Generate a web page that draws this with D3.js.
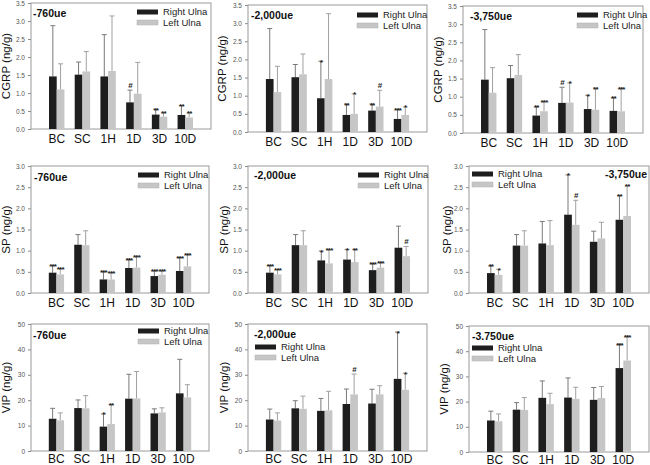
<!DOCTYPE html>
<html><head><meta charset="utf-8">
<script src="https://cdn.jsdelivr.net/npm/d3@7"></script>
<style>
body{margin:0;background:#fff;}
svg{display:block;font-family:"Liberation Sans",Arial,sans-serif;}
</style></head>
<body>
<svg id="chart" width="650" height="465"></svg>
<script>
// ---------- DATA ----------
const categories = ["BC","SC","1H","1D","3D","10D"];
const seriesNames = ["Right Ulna","Left Ulna"];

// CGRP
const cgrp760Right = [1.46,1.51,1.46,0.74,0.40,0.39];
const cgrp760RightSD = [1.41,0.35,1.16,0.34,0.15,0.26];
const cgrp760Left = [1.10,1.60,1.61,0.98,0.34,0.32];
const cgrp760LeftSD = [0.71,0.55,1.53,0.87,0.11,0.13];
const cgrp760RightSig = ["","","","#","**","**"];
const cgrp760LeftSig = ["","","","","**","**"];

const cgrp2000Right = [1.46,1.51,0.93,0.47,0.59,0.36];
const cgrp2000RightSD = [1.39,0.35,1.02,0.30,0.18,0.27];
const cgrp2000Left = [1.10,1.59,1.46,0.50,0.70,0.47];
const cgrp2000LeftSD = [0.71,0.56,1.80,0.55,0.45,0.22];
const cgrp2000RightSig = ["","","*","**","**","***"];
const cgrp2000LeftSig = ["","","","*","#","*"];

const cgrp3750Right = [1.47,1.51,0.48,0.83,0.66,0.61];
const cgrp3750RightSD = [1.38,0.35,0.24,0.43,0.38,0.36];
const cgrp3750Left = [1.11,1.60,0.60,0.84,0.64,0.60];
const cgrp3750LeftSD = [0.69,0.56,0.27,0.54,0.60,0.64];
const cgrp3750RightSig = ["","","**","#","*","**"];
const cgrp3750LeftSig = ["","","***","*","**","***"];

// SP
const sp760Right = [0.48,1.14,0.32,0.59,0.40,0.52];
const sp760RightSD = [0.17,0.24,0.18,0.21,0.12,0.32];
const sp760Left = [0.44,1.13,0.32,0.60,0.43,0.63];
const sp760LeftSD = [0.14,0.34,0.16,0.27,0.09,0.29];
const sp760RightSig = ["***","","***","***","***","***"];
const sp760LeftSig = ["***","","***","***","***","***"];

const sp2000Right = [0.48,1.13,0.77,0.79,0.54,1.07];
const sp2000RightSD = [0.17,0.25,0.22,0.24,0.15,0.51];
const sp2000Left = [0.44,1.13,0.70,0.73,0.60,0.87];
const sp2000LeftSD = [0.12,0.34,0.33,0.30,0.13,0.23];
const sp2000RightSig = ["***","","*","*","***",""];
const sp2000LeftSig = ["***","","***","**","***","#"];

const sp3750Right = [0.47,1.12,1.17,1.85,1.21,1.73];
const sp3750RightSD = [0.17,0.26,0.52,0.94,0.25,0.57];
const sp3750Left = [0.43,1.12,1.13,1.61,1.29,1.82];
const sp3750LeftSD = [0.13,0.35,0.58,0.58,0.38,0.71];
const sp3750RightSig = ["**","","","*","","**"];
const sp3750LeftSig = ["*","","","#","","**"];

// VIP
const vip760Right = [12.7,16.9,9.6,20.6,14.8,22.7];
const vip760RightSD = [4.1,3.2,5.0,9.6,1.8,13.4];
const vip760Left = [12.1,16.8,10.6,20.7,15.2,21.1];
const vip760LeftSD = [2.9,5.0,7.7,10.6,1.8,5.0];
const vip760RightSig = ["","","*","","",""];
const vip760LeftSig = ["","","**","","",""];

const vip2000Right = [12.4,16.8,15.8,18.5,18.7,28.4];
const vip2000RightSD = [4.1,3.0,4.9,5.9,5.6,18.4];
const vip2000Left = [12.0,16.6,16.0,22.3,22.3,24.1];
const vip2000LeftSD = [3.0,5.0,7.5,8.0,3.4,6.5];
const vip2000RightSig = ["","","","","","*"];
const vip2000LeftSig = ["","","","#","","*"];

const vip3750Right = [12.5,16.8,21.5,21.6,20.7,33.3];
const vip3750RightSD = [3.7,2.8,6.7,7.8,4.9,9.5];
const vip3750Left = [12.2,16.7,19.0,21.1,21.4,36.3];
const vip3750LeftSD = [2.9,4.9,4.3,4.6,4.6,9.7];
const vip3750RightSig = ["","","","","","***"];
const vip3750LeftSig = ["","","","","","***"];

const cgrpTicks = [0,0.5,1.0,1.5,2.0,2.5,3.0,3.5];
const spTicks = [0,0.5,1.0,1.5,2.0,2.5,3.0];
const vipTicks = [0,10,20,30,40,50];

const panelTitles = ["-760ue","-2,000ue","-3,750ue","-760ue","-2,000ue","-3,750ue","-760ue","-2,000ue","-3.750ue"];
const yLabels = ["CGRP (ng/g)","SP (ng/g)","VIP (ng/g)"];

// ---------- PANELS (data bindings) ----------
const panels = [
 {r:cgrp760Right, rsd:cgrp760RightSD, l:cgrp760Left, lsd:cgrp760LeftSD, rs:cgrp760RightSig, ls:cgrp760LeftSig, ticks:cgrpTicks, fmt:".1f", ylab:0},
 {r:cgrp2000Right, rsd:cgrp2000RightSD, l:cgrp2000Left, lsd:cgrp2000LeftSD, rs:cgrp2000RightSig, ls:cgrp2000LeftSig, ticks:cgrpTicks, fmt:".1f", ylab:0},
 {r:cgrp3750Right, rsd:cgrp3750RightSD, l:cgrp3750Left, lsd:cgrp3750LeftSD, rs:cgrp3750RightSig, ls:cgrp3750LeftSig, ticks:cgrpTicks, fmt:".1f", ylab:0},
 {r:sp760Right, rsd:sp760RightSD, l:sp760Left, lsd:sp760LeftSD, rs:sp760RightSig, ls:sp760LeftSig, ticks:spTicks, fmt:".1f", ylab:1},
 {r:sp2000Right, rsd:sp2000RightSD, l:sp2000Left, lsd:sp2000LeftSD, rs:sp2000RightSig, ls:sp2000LeftSig, ticks:spTicks, fmt:".1f", ylab:1},
 {r:sp3750Right, rsd:sp3750RightSD, l:sp3750Left, lsd:sp3750LeftSD, rs:sp3750RightSig, ls:sp3750LeftSig, ticks:spTicks, fmt:".1f", ylab:1},
 {r:vip760Right, rsd:vip760RightSD, l:vip760Left, lsd:vip760LeftSD, rs:vip760RightSig, ls:vip760LeftSig, ticks:vipTicks, fmt:"d", ylab:2},
 {r:vip2000Right, rsd:vip2000RightSD, l:vip2000Left, lsd:vip2000LeftSD, rs:vip2000RightSig, ls:vip2000LeftSig, ticks:vipTicks, fmt:"d", ylab:2},
 {r:vip3750Right, rsd:vip3750RightSD, l:vip3750Left, lsd:vip3750LeftSD, rs:vip3750RightSig, ls:vip3750LeftSig, ticks:vipTicks, fmt:"d", ylab:2}
];

// ---------- LAYOUT ----------
const layout = [
 {f:[31,3,211,129],   title:[33,17,"start"],   leg:[137,12],  ylx:9.5,   xo:14},
 {f:[248,5,427,132],  title:[251,19,"start"],  leg:[357,15],  ylx:225.5, xo:14},
 {f:[463,6,643,133],  title:[470,20,"start"],  leg:[577,15],  ylx:441.5, xo:14},
 {f:[31,166,209,293], title:[34,181,"start"],  leg:[138,175], ylx:9.5,   xo:13.5},
 {f:[248,166,428,293],title:[254,179,"start"], leg:[358,175], ylx:228,   xo:13.5},
 {f:[469,166,649,293],title:[647,177.5,"end"], leg:[472,174], ylx:451,   xo:13.5},
 {f:[31,324,209,451], title:[33,338.5,"start"],leg:[138,331], ylx:9.5,   xo:12},
 {f:[248,324,427,451],title:[254,337.5,"start"],leg:[255,347], ylx:228,   xo:12},
 {f:[469,326,649,452],title:[472,340,"start"], leg:[472,348], ylx:448,   xo:11.5}
];

const darkFill = "#1e1e1e", lightFill = "#c6c6c6";
const svg = d3.select("#chart");

panels.forEach((p, k) => {
  const L = layout[k];
  const [x0, y0, x1, y1] = L.f;
  const g = svg.append("g");
  const x = d3.scaleLinear().domain([0, 7]).range([x0, x1]);
  const yMax = p.ticks[p.ticks.length - 1];
  const y = d3.scaleLinear().domain([0, yMax]).range([y1, y0]);
  const bw = 0.3;

  // y axis
  const ax = g.append("g").attr("transform", `translate(${x0},0)`)
    .call(d3.axisLeft(y).tickValues(p.ticks).tickFormat(d3.format(p.fmt)).tickSize(3).tickPadding(3));
  ax.select(".domain").remove();
  ax.selectAll(".tick line").attr("stroke", "#8a8a8a");
  ax.selectAll(".tick text").attr("fill", "#555").style("font-size", "6.5px").style("font-family", "Liberation Sans, Arial, sans-serif");

  // frame
  g.append("rect").attr("x", x0).attr("y", y0).attr("width", x1 - x0).attr("height", y1 - y0)
    .attr("fill", "none").attr("stroke", "#9a9a9a").attr("stroke-width", 1);

  const series = [
    {vals: p.r, sd: p.rsd, sig: p.rs, off: -bw, fill: darkFill, err: "#7a7a7a"},
    {vals: p.l, sd: p.lsd, sig: p.ls, off: 0, fill: lightFill, err: "#a0a0a0"}
  ];
  series.forEach(s => {
    const data = categories.map((c, i) => ({i: i + 1, v: s.vals[i], sd: s.sd[i], sig: s.sig[i]}));
    const eg = g.append("g");
    eg.selectAll("line.v").data(data).join("line")
      .attr("x1", d => x(d.i + s.off + bw / 2)).attr("x2", d => x(d.i + s.off + bw / 2))
      .attr("y1", d => y(d.v)).attr("y2", d => y(d.v + d.sd))
      .attr("stroke", s.err).attr("stroke-width", 1);
    eg.selectAll("line.c").data(data).join("line")
      .attr("x1", d => x(d.i + s.off + bw / 2) - 2.5).attr("x2", d => x(d.i + s.off + bw / 2) + 2.5)
      .attr("y1", d => y(d.v + d.sd)).attr("y2", d => y(d.v + d.sd))
      .attr("stroke", s.err).attr("stroke-width", 1);
    g.append("g").selectAll("rect").data(data).join("rect")
      .attr("x", d => x(d.i + s.off)).attr("width", x(bw) - x(0))
      .attr("y", d => y(d.v)).attr("height", d => y(0) - y(d.v))
      .attr("fill", s.fill);
    g.append("g").selectAll("text").data(data.filter(d => d.sig)).join("text")
      .attr("x", d => x(d.i + s.off + bw / 2))
      .attr("y", d => y(d.v + d.sd) + (d.sig === "#" ? -2.5 : 3.5))
      .attr("text-anchor", "middle")
      .style("font-size", "8px")
      .style("font-weight", "bold")
      .style("letter-spacing", "-0.8px")
      .attr("fill", "#222")
      .text(d => d.sig);
  });

  // x category labels
  g.append("g").selectAll("text").data(categories).join("text")
    .attr("x", (c, i) => x(i + 1)).attr("y", y1 + L.xo)
    .attr("text-anchor", "middle").style("font-size", "12px").attr("fill", "#111")
    .text(c => c);

  // y label
  g.append("text")
    .attr("transform", `translate(${L.ylx},${(y0 + y1) / 2}) rotate(-90)`)
    .attr("text-anchor", "middle").style("font-size", "11.5px").attr("fill", "#111")
    .text(yLabels[p.ylab]);

  // title
  g.append("text").attr("x", L.title[0]).attr("y", L.title[1]).attr("text-anchor", L.title[2])
    .style("font-size", "10.5px").style("font-weight", "bold").attr("fill", "#111")
    .text(panelTitles[k]);

  // legend
  const lg = g.append("g").attr("transform", `translate(${L.leg[0]},${L.leg[1]})`);
  [darkFill, lightFill].forEach((c, j) => {
    lg.append("rect").attr("x", 0).attr("y", j * 10.5 - 2.5).attr("width", 21).attr("height", 5)
      .attr("fill", c).attr("stroke", j ? "#b0b0b0" : "none").attr("stroke-width", 0.5);
    lg.append("text").attr("x", 26).attr("y", j * 10.5 + 3.3)
      .style("font-size", "9.5px").attr("fill", "#222").text(seriesNames[j]);
  });
});
</script>
</body></html>
